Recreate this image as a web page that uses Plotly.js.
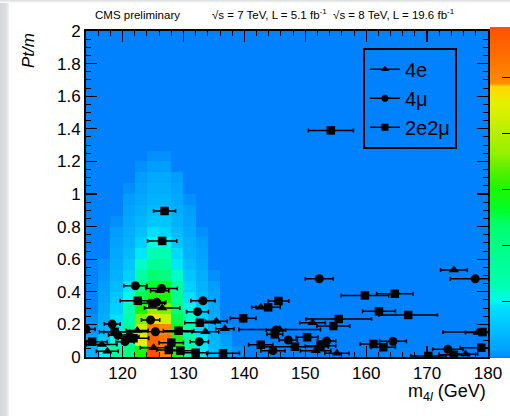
<!DOCTYPE html>
<html>
<head>
<meta charset="utf-8">
<script src="https://cdn.plot.ly/plotly-3.0.1.min.js"></script>
<style>
  html, body { margin: 0; padding: 0; background: #ffffff; }
  #strip { position: absolute; left: 0; top: 0; width: 9px; height: 416px;
           background: linear-gradient(to right, #d4d6d9 0, #dcdee1 6px, #f4f4f5 9px); }
  #topstrip { position: absolute; left: 0; top: 0; width: 510px; height: 3px;
           background: linear-gradient(to bottom, #d9dbde 0, #ffffff 3px); }
  #chart { position: absolute; left: 0; top: 0; width: 510px; height: 416px; }
</style>
</head>
<body>
<div id="strip"></div>
<div id="topstrip"></div>
<div id="chart"></div>
<script>
// ---- Signal expectation (2D histogram), 2 GeV mass bins x 30 Pt/m bins (values bottom -> top) ----
const massBinLow = [114, 116, 118, 120, 122, 124, 126, 128, 130, 132, 134, 136, 138];
const signalByMassBin = [
  [0.06, 0.03, 0.015, 0.01],
  [0.17, 0.10, 0.07, 0.05, 0.04, 0.03, 0.02, 0.015, 0.01],
  [0.25, 0.18, 0.16, 0.15, 0.12, 0.10, 0.08, 0.06, 0.05, 0.04, 0.03, 0.02, 0.01],
  [0.35, 0.30, 0.30, 0.25, 0.22, 0.18, 0.16, 0.12, 0.10, 0.08, 0.06, 0.05, 0.04, 0.03, 0.02, 0.01],
  [0.50, 0.78, 0.70, 0.60, 0.50, 0.42, 0.33, 0.25, 0.20, 0.16, 0.12, 0.09, 0.07, 0.05, 0.04, 0.03, 0.02, 0.01],
  [1.00, 0.95, 0.88, 0.80, 0.62, 0.50, 0.45, 0.40, 0.30, 0.22, 0.18, 0.15, 0.10, 0.08, 0.06, 0.05, 0.04, 0.02, 0.01],
  [0.85, 0.90, 0.85, 0.72, 0.60, 0.50, 0.45, 0.35, 0.28, 0.22, 0.17, 0.13, 0.10, 0.08, 0.06, 0.05, 0.04, 0.02, 0.01],
  [0.48, 0.50, 0.45, 0.42, 0.35, 0.30, 0.25, 0.20, 0.16, 0.14, 0.10, 0.08, 0.06, 0.05, 0.04, 0.03, 0.02],
  [0.25, 0.25, 0.22, 0.20, 0.17, 0.15, 0.12, 0.10, 0.08, 0.06, 0.05, 0.04, 0.03, 0.02, 0.01],
  [0.16, 0.16, 0.14, 0.12, 0.10, 0.08, 0.06, 0.05, 0.04, 0.03, 0.02, 0.01],
  [0.08, 0.07, 0.06, 0.05, 0.04, 0.03, 0.02, 0.01],
  [0.03, 0.02, 0.01],
  [0.01]
];
const nMassBins = 33;   // 114 .. 180 GeV
const nPtBins = 30;     // 0 .. 2

// ---- Events ----
const e4Mass = [126.1, 126.5, 122.4, 133.6, 116.6, 117.5, 125.1, 142.7, 135.4, 136.8, 151.2, 145.8, 151.7, 155.2, 174.4, 178.3, 176.3];
const e4PtM  = [0.407, 0.300, 0.163, 0.155, 0.077, 0.035, 0.057, 0.305, 0.219, 0.174, 0.210, 0.168, 0.039, 0.023, 0.534, 0.150, 0.018];
const e4Err  = [1.5, 2.9, 1.8, 2.2, 2.5, 1.8, 2.2, 1.5, 1.8, 1.5, 2.1, 6.7, 2.5, 2.0, 2.2, 2.0, 2.0];

const mu4Mass = [122.1, 126.4, 125.6, 133.2, 132.3, 118.3, 124.6, 114.0, 125.4, 120.4, 132.6, 119.2, 121.2, 152.3, 145.2, 147.2, 153.5, 144.7, 177.9, 164.4, 173.4];
const mu4PtM  = [0.437, 0.421, 0.336, 0.345, 0.278, 0.202, 0.227, 0.170, 0.155, 0.094, 0.094, 0.135, 0.125, 0.480, 0.166, 0.104, 0.098, 0.039, 0.480, 0.096, 0.047];
const mu4Err  = [1.9, 2.6, 1.5, 2.0, 1.8, 1.3, 1.5, 1.5, 8.5, 1.5, 1.5, 1.5, 1.5, 2.3, 1.6, 1.5, 1.5, 2.0, 4.1, 2.2, 2.5];

const e2mu2Mass = [154.2, 126.9, 126.5, 122.5, 124.9, 118.7, 115.0, 121.8, 129.2, 132.7, 128.0, 127.6, 129.5, 132.0, 145.6, 143.9, 139.8, 145.0, 150.3, 142.7, 148.3, 155.5, 154.6, 152.5, 136.5, 159.8, 164.7, 162.1, 166.9, 179.1, 161.2, 162.8, 178.9, 170.2, 174.4];
const e2mu2PtM = [1.390, 0.896, 0.712, 0.345, 0.330, 0.155, 0.094, 0.115, 0.161, 0.210, 0.088, 0.043, 0.039, 0.026, 0.344, 0.305, 0.237, 0.139, 0.121, 0.075, 0.063, 0.233, 0.190, 0.069, 0.023, 0.378, 0.388, 0.280, 0.258, 0.153, 0.080, 0.060, 0.057, 0.006, 0.014];
const e2mu2Err = [3.7, 1.8, 2.4, 2.9, 2.0, 2.5, 2.5, 2.5, 2.5, 2.5, 2.0, 2.0, 2.0, 2.0, 1.7, 2.0, 2.1, 1.3, 1.8, 2.0, 5.5, 5.4, 2.7, 2.5, 2.7, 3.9, 3.0, 2.7, 4.8, 6.5, 2.2, 2.0, 3.5, 2.9, 2.5];

const channelNames = ['4e', '4\u03bc', '2e2\u03bc'];

// ---- build heatmap table ----
const z = [];
for (let r = 0; r < nPtBins; r++) {
  const row = [];
  for (let c = 0; c < nMassBins; c++) {
    const i = massBinLow.indexOf(114 + 2 * c);
    row.push(i >= 0 && r < signalByMassBin[i].length ? signalByMassBin[i][r] : 0);
  }
  z.push(row);
}

const rootScale = [
  [0.0, 'rgb(0,130,255)'],
  [0.02, 'rgb(0,158,255)'],
  [0.155, 'rgb(0,225,255)'],
  [0.175, 'rgb(0,250,232)'],
  [0.22, 'rgb(0,255,175)'],
  [0.40, 'rgb(0,255,110)'],
  [0.45, 'rgb(0,255,40)'],
  [0.51, 'rgb(30,245,0)'],
  [0.57, 'rgb(90,240,0)'],
  [0.62, 'rgb(150,240,0)'],
  [0.77, 'rgb(230,240,0)'],
  [0.82, 'rgb(255,215,0)'],
  [0.83, 'rgb(255,140,0)'],
  [1.0, 'rgb(255,80,0)']
];

const font = 'Liberation Sans, Arial, Helvetica, sans-serif';
const errStyle = {type: 'data', color: '#000', thickness: 1.5, width: 2};

const traces = [
  {
    type: 'heatmap', z: z, x0: 115, dx: 2, y0: 1/30, dy: 1/15,
    zmin: 0, zmax: 1, zsmooth: false, colorscale: rootScale, hoverinfo: 'skip',
    colorbar: {
      x: 1.005, xanchor: 'left', xpad: 0, thickness: 20, thicknessmode: 'pixels',
      y: 0.505, yanchor: 'middle', len: 1.015, lenmode: 'fraction', ypad: 0,
      outlinewidth: 0, showticklabels: false, ticks: 'inside', ticklen: 8,
      tickcolor: '#000', tickwidth: 1, tickvals: [0.169, 0.338, 0.508, 0.677, 0.846]
    }
  },
  {type: 'scatter', mode: 'markers', x: e4Mass, y: e4PtM, showlegend: false,
   marker: {symbol: 'triangle-up', size: 9, color: '#000'},
   error_x: Object.assign({array: e4Err}, errStyle)},
  {type: 'scatter', mode: 'markers', x: mu4Mass, y: mu4PtM, showlegend: false,
   marker: {symbol: 'circle', size: 9, color: '#000'},
   error_x: Object.assign({array: mu4Err}, errStyle)},
  {type: 'scatter', mode: 'markers', x: e2mu2Mass, y: e2mu2PtM, showlegend: false,
   marker: {symbol: 'square', size: 8.5, color: '#000'},
   error_x: Object.assign({array: e2mu2Err}, errStyle)},
  {type: 'scatter', mode: 'lines+markers', x: [null], y: [null], name: channelNames[0],
   line: {color: '#000', width: 1.5}, marker: {symbol: 'triangle-up', size: 7, color: '#000'}},
  {type: 'scatter', mode: 'lines+markers', x: [null], y: [null], name: channelNames[1],
   line: {color: '#000', width: 1.5}, marker: {symbol: 'circle', size: 7, color: '#000'}},
  {type: 'scatter', mode: 'lines+markers', x: [null], y: [null], name: channelNames[2],
   line: {color: '#000', width: 1.5}, marker: {symbol: 'square', size: 7, color: '#000'}}
];

const axisCommon = {
  showline: true, linecolor: '#000', linewidth: 2, mirror: 'allticks',
  ticks: 'inside', tickcolor: '#000', tickwidth: 1.2, ticklen: 11,
  showgrid: false, zeroline: false, tickfont: {family: font, size: 17, color: '#000'}
};

const layout = {
  width: 510, height: 416,
  margin: {l: 86, r: 22, t: 31, b: 59, pad: 0, autoexpand: false},
  paper_bgcolor: 'rgba(0,0,0,0)', plot_bgcolor: 'rgb(0,130,255)',
  font: {family: font, color: '#000'},
  xaxis: Object.assign({}, axisCommon, {
    range: [114, 180], tickvals: [120, 130, 140, 150, 160, 170, 180], automargin: false,
    minor: {dtick: 2, ticks: 'inside', ticklen: 5, tickcolor: '#000', tickwidth: 1}
  }),
  yaxis: Object.assign({}, axisCommon, {
    range: [0, 2], dtick: 0.2, tick0: 0, automargin: false,
    minor: {dtick: 0.05, ticks: 'inside', ticklen: 5, tickcolor: '#000', tickwidth: 1}
  }),
  showlegend: true,
  legend: {
    x: 0.689, xanchor: 'left', y: 0.949, yanchor: 'top',
    bgcolor: 'rgba(0,0,0,0)', bordercolor: '#000', borderwidth: 2,
    font: {family: font, size: 20, color: '#000'}, itemwidth: 30, tracegroupgap: 0
  },
  annotations: [
    {text: 'CMS preliminary', xref: 'paper', yref: 'paper', x: 0.018, y: 1.049,
     xanchor: 'left', yanchor: 'middle', showarrow: false, font: {family: font, size: 11.5}},
    {text: '\u221as = 7 TeV, L = 5.1 fb<sup>-1</sup>  \u221as = 8 TeV, L = 19.6 fb<sup>-1</sup>',
     xref: 'paper', yref: 'paper', x: 0.309, y: 1.052, xanchor: 'left', yanchor: 'middle',
     showarrow: false, font: {family: font, size: 11.5}},
    {text: '<i>Pt/m</i>', xref: 'paper', yref: 'paper', x: -0.143, y: 1.0, textangle: -90,
     xanchor: 'center', yanchor: 'top', showarrow: false, font: {family: font, size: 17}},
    {text: 'm<sub>4<i>l</i></sub> (GeV)', xref: 'paper', yref: 'paper', x: 1.0, y: -0.11,
     xanchor: 'right', yanchor: 'middle', showarrow: false, font: {family: font, size: 18}}
  ]
};

Plotly.newPlot('chart', traces, layout, {staticPlot: true, displayModeBar: false});
</script>
</body>
</html>
